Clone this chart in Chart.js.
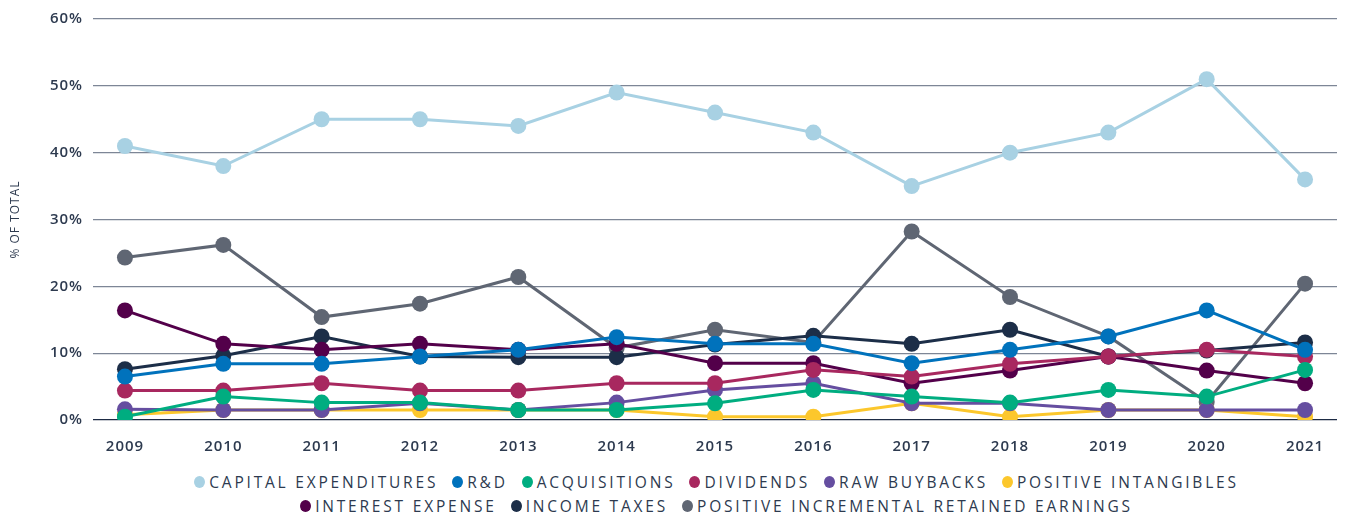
<!DOCTYPE html>
<html>
<head>
<meta charset="utf-8">
<script src="https://cdn.jsdelivr.net/npm/chart.js@4.4.0/dist/chart.umd.min.js"></script>
<style>
  html, body { margin: 0; padding: 0; background: #fff; }
  #wrap { width: 1345px; height: 516px; position: relative; }
  #chart-box { width: 1345px; height: 460px; position: relative; }
  #legend {
    margin: 10px 0 0 93px;
    width: 1247px;
    display: flex;
    flex-wrap: wrap;
    justify-content: center;
    font-family: "Open Sans", Lato, sans-serif;
    font-size: 15.5px;
    font-weight: 500;
    letter-spacing: 2.8px;
    color: #2d3a4f;
  }
  #legend .item { display: flex; align-items: center; height: 24px; margin: 0 7px; }
  #legend .dot { width: 11px; height: 12px; border-radius: 50%; margin-right: 4px; }
  #legend .brk { flex-basis: 100%; height: 0; }
</style>
</head>
<body>
<div id="wrap">
  <div id="chart-box"><canvas id="myChart"></canvas></div>
  <div id="legend"></div>
</div>
<script>
const years = [2009, 2010, 2011, 2012, 2013, 2014, 2015, 2016, 2017, 2018, 2019, 2020, 2021];
const yTicks = [0, 10, 20, 30, 40, 50, 60];

const capex = [41, 38, 45, 45, 44, 49, 46, 43, 35, 40, 43, 51, 36];
const rnd = [6.5, 8.4, 8.4, 9.5, 10.5, 12.4, 11.4, 11.4, 8.5, 10.5, 12.5, 16.4, 10.5];
const acquisitions = [0.5, 3.5, 2.6, 2.6, 1.5, 1.5, 2.5, 4.5, 3.5, 2.6, 4.5, 3.5, 7.5];
const dividends = [4.4, 4.4, 5.5, 4.4, 4.4, 5.5, 5.5, 7.5, 6.5, 8.4, 9.5, 10.5, 9.5];
const buybacks = [1.6, 1.5, 1.5, 2.5, 1.5, 2.6, 4.5, 5.5, 2.5, 2.5, 1.5, 1.5, 1.5];
const intangibles = [0.8, 1.5, 1.5, 1.5, 1.5, 1.5, 0.5, 0.5, 2.5, 0.5, 1.5, 1.5, 0.5];
const interest = [16.4, 11.4, 10.5, 11.4, 10.5, 11.4, 8.5, 8.5, 5.5, 7.4, 9.5, 7.4, 5.5];
const taxes = [7.6, 9.6, 12.5, 9.5, 9.4, 9.4, 11.3, 12.6, 11.4, 13.5, 9.5, 10.4, 11.6];
const retained = [24.3, 26.2, 15.4, 17.4, 21.4, 10.8, 13.5, 11.6, 28.2, 18.4, 12.5, 2.7, 20.4];

const seriesNames = [
    'CAPITAL EXPENDITURES', 'R&D', 'ACQUISITIONS', 'DIVIDENDS', 'RAW BUYBACKS',
    'POSITIVE INTANGIBLES', 'INTEREST EXPENSE', 'INCOME TAXES', 'POSITIVE INCREMENTAL RETAINED EARNINGS',
];
const seriesValues = [capex, rnd, acquisitions, dividends, buybacks, intangibles, interest, taxes, retained];
const seriesColors = ['#a8d1e3', '#0072bc', '#00ad80', '#a8285f', '#654ea0', '#fcc72c', '#53004a', '#1c2e48', '#5f6673'];

const textColor = '#2d3a4f';
const fontFamily = '"Open Sans", Lato, sans-serif';
const tickFont = { family: fontFamily, size: 15, weight: '600' };

const datasets = seriesNames.map((name, i) => ({
    label: name,
    data: years.map((yr, j) => ({ x: yr, y: seriesValues[i][j] })),
    borderColor: seriesColors[i],
    backgroundColor: seriesColors[i],
    borderWidth: 3,
    pointRadius: 8,
    pointHoverRadius: 8,
    pointBorderWidth: 0,
    tension: 0,
}));

// a little tracking on all canvas text
const spacing = {
    id: 'spacing',
    beforeLayout: (chart) => { chart.ctx.letterSpacing = '1px'; },
    beforeDraw: (chart) => { chart.ctx.letterSpacing = '1px'; },
};

const ctx = document.getElementById('myChart').getContext('2d');
const myChart = new Chart(ctx, {
    type: 'line',
    data: { datasets },
    plugins: [spacing],
    options: {
        responsive: true,
        maintainAspectRatio: false,
        animation: false,
        layout: { padding: { top: 18, right: 5, left: 0, bottom: 0 } },
        plugins: {
            legend: { display: false },
            tooltip: { enabled: false },
        },
        scales: {
            x: {
                type: 'linear',
                min: 2008.675,
                max: 2021.325,
                grid: { display: false },
                border: { display: false },
                ticks: {
                    stepSize: 1,
                    includeBounds: false,
                    color: textColor,
                    font: tickFont,
                    padding: 10,
                    callback: (v) => String(v),
                },
                afterFit: (axis) => { axis.height = 40; },
            },
            y: {
                min: 0,
                max: 60,
                afterBuildTicks: (axis) => { axis.ticks = yTicks.map((v) => ({ value: v })); },
                grid: {
                    drawTicks: false,
                    color: (c) => (c.tick && c.tick.value === 0 ? '#1d2b44' : '#7d8696'),
                    lineWidth: 1.2,
                },
                border: { display: false },
                ticks: {
                    color: textColor,
                    font: tickFont,
                    padding: 10,
                    callback: (v) => v + '%',
                },
                title: {
                    display: true,
                    text: '% OF TOTAL',
                    color: textColor,
                    font: { family: fontFamily, size: 12 },
                    padding: { top: 8, bottom: 0 },
                },
                afterFit: (axis) => { axis.width = 93; },
            },
        },
    },
});

// html legend, two rows under the plot
const legendEl = document.getElementById('legend');
seriesNames.forEach((name, i) => {
    const item = document.createElement('div');
    item.className = 'item';
    const dot = document.createElement('span');
    dot.className = 'dot';
    dot.style.background = seriesColors[i];
    const label = document.createElement('span');
    label.textContent = name;
    item.appendChild(dot);
    item.appendChild(label);
    legendEl.appendChild(item);
    if (i === 5) {
        const brk = document.createElement('div');
        brk.className = 'brk';
        legendEl.appendChild(brk);
    }
});
</script>
</body>
</html>
